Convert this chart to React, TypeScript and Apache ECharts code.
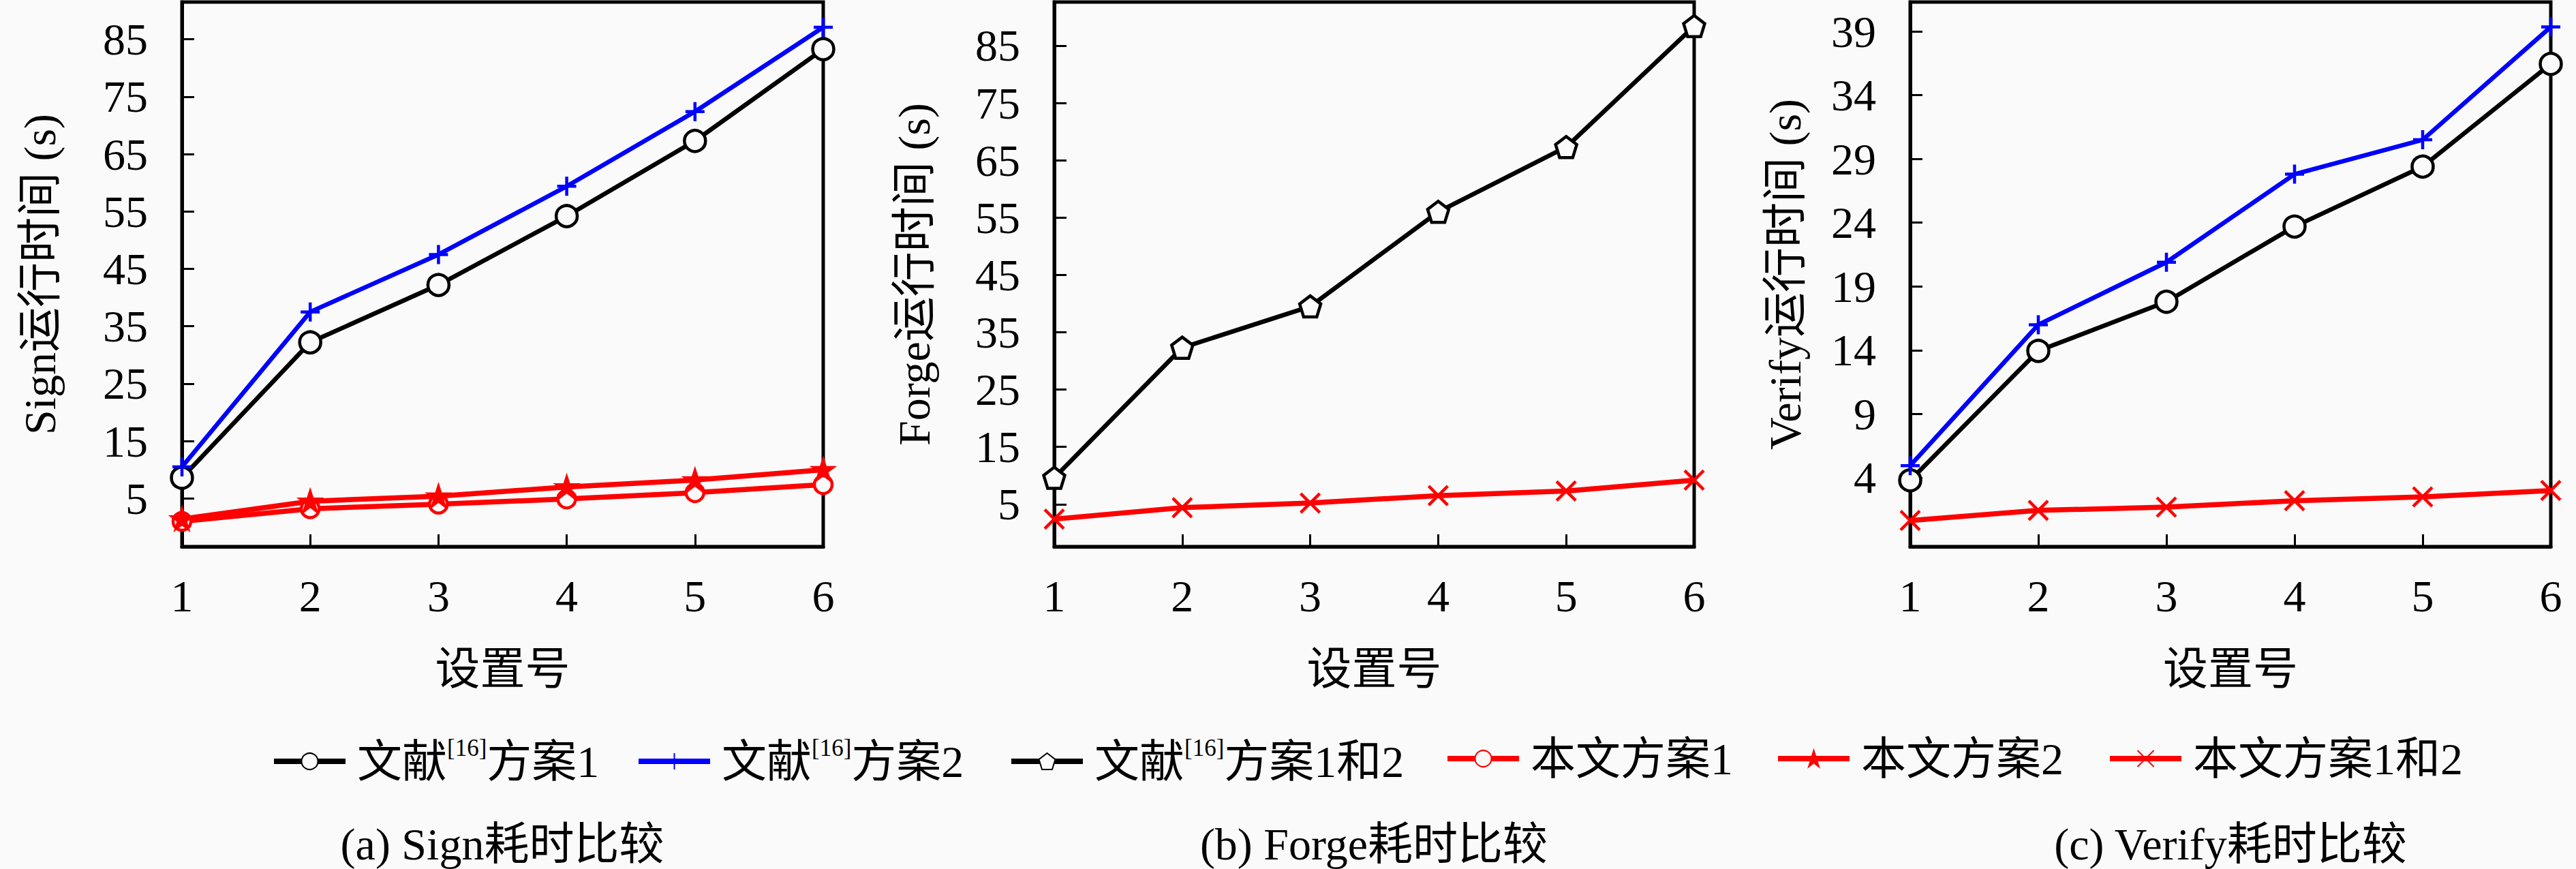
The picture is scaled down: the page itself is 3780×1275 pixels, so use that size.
import React, { useEffect, useRef } from "react";
import * as echarts from "echarts";

const settings = [1, 2, 3, 4, 5, 6];

// (a) Sign
const signRef1 = [8.6, 32.2, 42.2, 54.2, 67.3, 83.3];
const signRef2 = [10.5, 37.5, 47.5, 59.4, 72.4, 87.1];
const signOur1 = [1.0, 3.2, 4.0, 4.9, 6.0, 7.4];
const signOur2 = [1.4, 4.5, 5.4, 7.0, 8.2, 10.0];
// (b) Forge
const forgeRef12 = [9.6, 32.3, 39.5, 56.0, 67.3, 88.4];
const forgeOur12 = [2.4, 4.4, 5.2, 6.5, 7.3, 9.2];
// (c) Verify
const verifyRef1 = [3.8, 13.95, 17.8, 23.7, 28.4, 36.45];
const verifyRef2 = [4.95, 16.0, 20.9, 27.8, 30.5, 39.35];
const verifyOur12 = [0.65, 1.44, 1.7, 2.2, 2.5, 3.0];

const signTicks = [5, 15, 25, 35, 45, 55, 65, 75, 85];
const forgeTicks = [5, 15, 25, 35, 45, 55, 65, 75, 85];
const verifyTicks = [4, 9, 14, 19, 24, 29, 34, 39];

const seriesNames = [
  "文献[16]方案1",
  "文献[16]方案2",
  "文献[16]方案1和2",
  "本文方案1",
  "本文方案2",
  "本文方案1和2",
];
const captions = ["(a) Sign耗时比较", "(b) Forge耗时比较", "(c) Verify耗时比较"];
const yNames = ["Sign运行时间 (s)", "Forge运行时间 (s)", "Verify运行时间 (s)"];
const xName = "设置号";

const FONT = "'Liberation Serif', 'Noto Sans CJK SC', serif";
const BG = "#fafafa";
const FS = 66;

const PLUS = "path://M5,0 L5,10 M0,5 L10,5";
const CROSS = "path://M0,0 L10,10 M10,0 L0,10";
const PENTAGON = "path://M5,0 L10,3.8 L8.1,10 L1.9,10 L0,3.8 Z";
const STAR =
  "path://M5,0 L6.2,3.6 L10,3.6 L6.9,5.8 L8.1,9.5 L5,7.2 L1.9,9.5 L3.1,5.8 L0,3.6 L3.8,3.6 Z";

const pairs = (ys: number[]) => ys.map((y, i) => [settings[i], y]);

export default function App() {
  const ref = useRef<HTMLDivElement>(null);
  useEffect(() => {
    document.body.style.margin = "0";
    const chart = echarts.init(ref.current!, null, { renderer: "svg" });

    const grids = [
      { left: 267, top: 3, width: 941, height: 799 },
      { left: 1547, top: 3, width: 939, height: 799 },
      { left: 2803, top: 3, width: 940, height: 799 },
    ].map((g) => ({ ...g, show: true, borderColor: "#000", borderWidth: 5, backgroundColor: "transparent" }));

    const xAxes = [0, 1, 2].map((gi) => ({
      type: "value",
      gridIndex: gi,
      min: 1,
      max: 6,
      interval: 1,
      axisLine: { show: true, onZero: false, lineStyle: { color: "#000", width: 5 } },
      axisTick: { show: true, inside: true, length: 18, lineStyle: { color: "#000", width: 3 } },
      axisLabel: { margin: 39, fontSize: FS, color: "#000", fontFamily: FONT },
      splitLine: { show: false },
      name: xName,
      nameLocation: "middle",
      nameGap: 146,
      nameTextStyle: { fontSize: FS, color: "#000", fontFamily: FONT },
    }));

    const yCfg = [
      { min: -3.4, max: 91.5, ticks: signTicks, gap: 176 },
      { min: -2.4, max: 92.6, ticks: forgeTicks, gap: 173 },
      { min: -1.4, max: 41.3, ticks: verifyTicks, gap: 151 },
    ];
    const yAxes = yCfg.map((c, gi) => ({
      type: "value",
      gridIndex: gi,
      min: c.min,
      max: c.max,
      axisLine: { show: true, onZero: false, lineStyle: { color: "#000", width: 5 } },
      axisTick: { show: true, inside: true, length: 18, customValues: c.ticks, lineStyle: { color: "#000", width: 3 } },
      axisLabel: { margin: 50, fontSize: FS, color: "#000", fontFamily: FONT, customValues: c.ticks },
      splitLine: { show: false },
      name: yNames[gi],
      nameLocation: "middle",
      nameGap: c.gap,
      nameTextStyle: { fontSize: FS, color: "#000", fontFamily: FONT },
    }));

    const mk = (
      name: string,
      gi: number,
      data: number[],
      color: string,
      symbol: string,
      size: number,
      fill: string,
      lw: number
    ) => ({
      type: "line",
      name,
      xAxisIndex: gi,
      yAxisIndex: gi,
      data: pairs(data),
      symbol,
      symbolSize: size,
      showAllSymbol: true,
      lineStyle: { color, width: lw },
      itemStyle: { color: fill, borderColor: color, borderWidth: 4.5 },
      emphasis: { disabled: true },
    });

    const series = [
      mk(seriesNames[0], 0, signRef1, "#000", "circle", 31, BG, 6.5),
      mk(seriesNames[1], 0, signRef2, "#0000ff", PLUS, 28, "#0000ff", 6.5),
      mk(seriesNames[3], 0, signOur1, "#ff0000", "circle", 26, BG, 7.5),
      mk(seriesNames[4], 0, signOur2, "#ff0000", STAR, 27, "#ff0000", 7.5),
      mk(seriesNames[2], 1, forgeRef12, "#000", PENTAGON, 31, BG, 6.5),
      mk(seriesNames[5], 1, forgeOur12, "#ff0000", CROSS, 28, "#ff0000", 7.5),
      mk(seriesNames[0], 2, verifyRef1, "#000", "circle", 31, BG, 6.5),
      mk(seriesNames[1], 2, verifyRef2, "#0000ff", PLUS, 28, "#0000ff", 6.5),
      mk(seriesNames[5], 2, verifyOur12, "#ff0000", CROSS, 28, "#ff0000", 7.5),
    ];

    const legendLefts = [393, 928, 1475, 2115, 2600, 3087];
    const rich = {
      m: { fontSize: FS, lineHeight: 74, fontFamily: FONT, color: "#000" },
      s: { fontSize: 35, lineHeight: 38, fontFamily: FONT, color: "#000", verticalAlign: "top" },
    };
    const legends = seriesNames.map((n, i) => ({
      data: [n],
      left: legendLefts[i],
      top: 1075,
      itemWidth: 105,
      itemHeight: 30,
      selectedMode: false,
      lineStyle: { width: 8 },
      textStyle: { fontSize: FS, fontFamily: FONT, color: "#000", padding: [0, 0, 0, 12], rich },
      formatter: (name: string) => {
        const m = name.match(/^(.*?)\[(\d+)\](.*)$/);
        if (m) return `{m|${m[1]}}{s|[${m[2]}]}{m|${m[3]}}`;
        return `{m|${name}}`;
      },
    }));

    const centers = [737, 2016, 3273];
    const graphic = captions.map((t, i) => ({
      type: "text",
      x: centers[i],
      y: 1238,
      style: {
        text: t,
        fontSize: FS,
        fontFamily: FONT,
        fill: "#000",
        align: "center",
        verticalAlign: "middle",
      },
    }));

    chart.setOption({
      animation: false,
      backgroundColor: BG,
      grid: grids,
      xAxis: xAxes,
      yAxis: yAxes,
      legend: legends,
      series,
      graphic,
    });
    return () => chart.dispose();
  }, []);
  return <div ref={ref} style={{ width: 3780, height: 1275 }} />;
}
